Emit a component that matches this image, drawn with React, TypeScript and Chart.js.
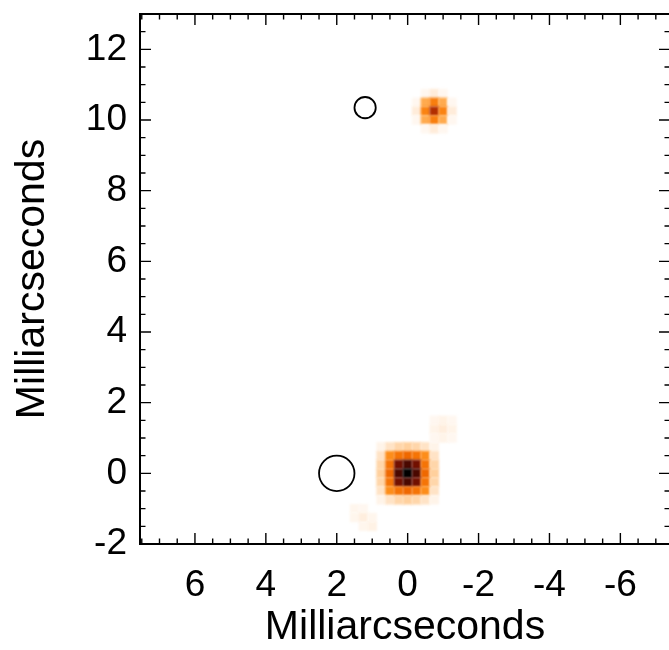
import React, { useEffect, useRef } from "react";
import { Chart, registerables } from "chart.js";

Chart.register(...registerables);

// Axis ranges in milliarcseconds (RA offset grows to the left)
const X_RANGE = [-7.4, 7.55];
const Y_RANGE = [-2, 13];
const X_TICKS = [6, 4, 2, 0, -2, -4, -6];
const Y_TICKS = [-2, 0, 2, 4, 6, 8, 10, 12];
const MINOR_STEP = 0.5;

// Map cell size, mas
const PIXEL_MAS = 0.25;

// Brightness maps, normalised to the core peak.
// Rows run north to south, columns east to west.
const CORE_CENTER = [0, 0];
const CORE_MAP = [
  [0.03, 0.08, 0.12, 0.14, 0.12, 0.08, 0.03],
  [0.08, 0.32, 0.42, 0.46, 0.42, 0.32, 0.08],
  [0.12, 0.42, 0.78, 0.86, 0.78, 0.42, 0.12],
  [0.14, 0.46, 0.86, 1.0, 0.86, 0.46, 0.14],
  [0.12, 0.42, 0.78, 0.86, 0.78, 0.42, 0.12],
  [0.08, 0.32, 0.42, 0.46, 0.42, 0.32, 0.08],
  [0.03, 0.08, 0.12, 0.14, 0.12, 0.08, 0.03],
];

const KNOT_CENTER = [-0.75, 10.25];
const KNOT_MAP = [
  [0.0, 0.02, 0.05, 0.02, 0.0],
  [0.02, 0.24, 0.38, 0.24, 0.02],
  [0.05, 0.36, 0.64, 0.36, 0.05],
  [0.02, 0.24, 0.38, 0.24, 0.02],
  [0.0, 0.02, 0.05, 0.02, 0.0],
];

const FAINT_N_CENTER = [-1.0, 1.25];
const FAINT_N_MAP = [
  [0.02, 0.03, 0.02],
  [0.03, 0.045, 0.03],
  [0.02, 0.03, 0.02],
];

const FAINT_S_CENTER = [1.25, -1.25];
const FAINT_S_MAP = [
  [0.025, 0.02, 0.0],
  [0.025, 0.045, 0.025],
  [0.0, 0.025, 0.035],
];

const BRIGHTNESS_MAPS = [
  { center: CORE_CENTER, map: CORE_MAP },
  { center: KNOT_CENTER, map: KNOT_MAP },
  { center: FAINT_N_CENTER, map: FAINT_N_MAP },
  { center: FAINT_S_CENTER, map: FAINT_S_MAP },
];

// Model components drawn as open circles (diameter in mas)
const COMPONENT_X = [2.0, 1.2];
const COMPONENT_Y = [0.0, 10.35];
const COMPONENT_SIZE = [1.0, 0.6];

const FONT_FAMILY = "'Liberation Sans', Arial, Helvetica, sans-serif";

// white -> peach -> orange -> dark red -> black
const COLOR_STOPS: [number, number[]][] = [
  [0.0, [255, 255, 255]],
  [0.05, [255, 236, 218]],
  [0.15, [255, 205, 150]],
  [0.3, [255, 146, 30]],
  [0.45, [242, 108, 0]],
  [0.6, [195, 55, 0]],
  [0.8, [105, 12, 0]],
  [1.0, [0, 0, 0]],
];

function colorFor(v: number): string {
  const t = Math.max(0, Math.min(1, v));
  for (let i = 1; i < COLOR_STOPS.length; i++) {
    const [t1, c1] = COLOR_STOPS[i];
    const [t0, c0] = COLOR_STOPS[i - 1];
    if (t <= t1) {
      const f = (t - t0) / (t1 - t0);
      const c = c0.map((a, k) => Math.round(a + (c1[k] - a) * f));
      return `rgb(${c[0]},${c[1]},${c[2]})`;
    }
  }
  return "rgb(0,0,0)";
}

const brightnessPlugin = {
  id: "brightnessMap",
  beforeDatasetsDraw(chart: any) {
    const { ctx, chartArea, scales } = chart;
    const xs = scales.x;
    const ys = scales.y;
    ctx.save();
    ctx.beginPath();
    ctx.rect(chartArea.left, chartArea.top, chartArea.right - chartArea.left, chartArea.bottom - chartArea.top);
    ctx.clip();
    ctx.filter = "blur(1px)";
    for (const { center, map } of BRIGHTNESS_MAPS) {
      const rows = map.length;
      const cols = map[0].length;
      for (let r = 0; r < rows; r++) {
        for (let c = 0; c < cols; c++) {
          const v = map[r][c];
          if (v <= 0) continue;
          const xc = center[0] + ((cols - 1) / 2 - c) * PIXEL_MAS;
          const yc = center[1] + ((rows - 1) / 2 - r) * PIXEL_MAS;
          const xa = xs.getPixelForValue(xc + PIXEL_MAS / 2);
          const xb = xs.getPixelForValue(xc - PIXEL_MAS / 2);
          const ya = ys.getPixelForValue(yc + PIXEL_MAS / 2);
          const yb = ys.getPixelForValue(yc - PIXEL_MAS / 2);
          const left = Math.min(xa, xb);
          const top = Math.min(ya, yb);
          ctx.fillStyle = colorFor(v);
          ctx.fillRect(left - 0.3, top - 0.3, Math.abs(xb - xa) + 0.6, Math.abs(yb - ya) + 0.6);
        }
      }
    }
    ctx.restore();
  },
};

function minorValues(min: number, max: number, majors: number[]): number[] {
  const out: number[] = [];
  const start = Math.ceil(min / MINOR_STEP);
  const end = Math.floor(max / MINOR_STEP);
  for (let i = start; i <= end; i++) {
    const v = i * MINOR_STEP;
    if (!majors.some((m) => Math.abs(m - v) < 1e-9)) out.push(v);
  }
  return out;
}

// Frame with inward-pointing ticks on all four sides
const framePlugin = {
  id: "insideFrame",
  afterDatasetsDraw(chart: any) {
    const { ctx, chartArea, scales } = chart;
    const { left, right, top, bottom } = chartArea;
    const xs = scales.x;
    const ys = scales.y;
    const MAJOR = 11;
    const MINOR = 5.5;
    ctx.save();
    ctx.strokeStyle = "#000";
    ctx.lineWidth = 1.4;
    ctx.beginPath();
    const xMinors = minorValues(X_RANGE[0], X_RANGE[1], X_TICKS);
    const yMinors = minorValues(Y_RANGE[0], Y_RANGE[1], Y_TICKS);
    const xTicks = [
      ...X_TICKS.map((v) => [v, MAJOR]),
      ...xMinors.map((v) => [v, MINOR]),
    ];
    const yTicks = [
      ...Y_TICKS.map((v) => [v, MAJOR]),
      ...yMinors.map((v) => [v, MINOR]),
    ];
    for (const [v, len] of xTicks) {
      const px = xs.getPixelForValue(v);
      ctx.moveTo(px, bottom);
      ctx.lineTo(px, bottom - len);
      ctx.moveTo(px, top);
      ctx.lineTo(px, top + len);
    }
    for (const [v, len] of yTicks) {
      const py = ys.getPixelForValue(v);
      ctx.moveTo(left, py);
      ctx.lineTo(left + len, py);
      ctx.moveTo(right, py);
      ctx.lineTo(right - len, py);
    }
    ctx.stroke();
    ctx.lineWidth = 2;
    ctx.strokeRect(left, top, right - left, bottom - top);
    ctx.restore();
  },
};

export default function App() {
  const canvasRef = useRef<HTMLCanvasElement | null>(null);

  useEffect(() => {
    const canvas = canvasRef.current;
    if (!canvas) return;

    const tickFont = { family: FONT_FAMILY, size: 37 };
    const titleFont = { family: FONT_FAMILY, size: 41, lineHeight: 1.1 };

    const componentRadius = (ctx: any) => {
      const s = ctx.chart.scales.x;
      const pxPerMas = Math.abs(s.getPixelForValue(1) - s.getPixelForValue(0));
      return (COMPONENT_SIZE[ctx.dataIndex] * pxPerMas) / 2;
    };

    const chart = new Chart(canvas, {
      type: "scatter",
      data: {
        datasets: [
          {
            label: "Model components",
            data: COMPONENT_X.map((x, i) => ({ x, y: COMPONENT_Y[i] })),
            showLine: false,
            pointStyle: "circle",
            backgroundColor: "rgba(0,0,0,0)",
            borderColor: "#000",
            pointBorderWidth: 1.8,
            pointRadius: componentRadius,
            pointHoverRadius: componentRadius,
          },
        ],
      },
      options: {
        responsive: false,
        animation: false,
        devicePixelRatio: 1,
        events: [],
        layout: { padding: { top: 14, right: 20, left: 0, bottom: 0 } },
        plugins: {
          legend: { display: false },
          tooltip: { enabled: false },
          title: { display: false },
        },
        scales: {
          x: {
            type: "linear",
            min: X_RANGE[0],
            max: X_RANGE[1],
            reverse: true,
            grid: { display: false, drawTicks: false },
            border: { display: false },
            ticks: {
              font: tickFont,
              color: "#000",
              padding: 20,
              maxRotation: 0,
              autoSkip: false,
            },
            afterBuildTicks: (axis: any) => {
              axis.ticks = X_TICKS.map((v) => ({ value: v }));
            },
            afterFit: (scale: any) => {
              scale.height = 106;
              scale.paddingLeft = 0;
              scale.paddingRight = 0;
            },
            title: {
              display: true,
              text: "Milliarcseconds",
              color: "#000",
              font: titleFont,
              padding: { top: 0, bottom: 0 },
            },
          },
          y: {
            type: "linear",
            min: Y_RANGE[0],
            max: Y_RANGE[1],
            grid: { display: false, drawTicks: false },
            border: { display: false },
            ticks: {
              font: tickFont,
              color: "#000",
              padding: 13,
              autoSkip: false,
            },
            afterBuildTicks: (axis: any) => {
              axis.ticks = Y_TICKS.map((v) => ({ value: v }));
            },
            afterFit: (scale: any) => {
              scale.width = 140;
              scale.paddingTop = 0;
              scale.paddingBottom = 0;
            },
            title: {
              display: true,
              text: "Milliarcseconds",
              color: "#000",
              font: { family: FONT_FAMILY, size: 41, lineHeight: 1.2 },
              padding: { top: 8, bottom: 0 },
            },
          },
        },
      },
      plugins: [brightnessPlugin, framePlugin],
    } as any);

    return () => chart.destroy();
  }, []);

  return (
    <div
      style={{
        position: "absolute",
        left: 0,
        top: 0,
        width: 669,
        height: 650,
        overflow: "hidden",
        background: "#fff",
      }}
    >
      <canvas
        ref={canvasRef}
        width={690}
        height={650}
        style={{ display: "block", width: 690, height: 650 }}
      />
    </div>
  );
}
